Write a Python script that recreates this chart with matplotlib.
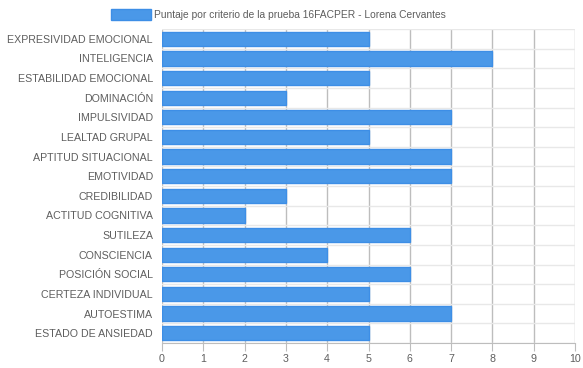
import numpy as np
import matplotlib.pyplot as plt

# puntajes 16FACPER por criterio

criterios = ['EXPRESIVIDAD EMOCIONAL', 'INTELIGENCIA', 'ESTABILIDAD EMOCIONAL', 'DOMINACIÓN',
             'IMPULSIVIDAD', 'LEALTAD GRUPAL', 'APTITUD SITUACIONAL', 'EMOTIVIDAD',
             'CREDIBILIDAD', 'ACTITUD COGNITIVA', 'SUTILEZA', 'CONSCIENCIA',
             'POSICIÓN SOCIAL', 'CERTEZA INDIVIDUAL', 'AUTOESTIMA', 'ESTADO DE ANSIEDAD']
puntajes = [5, 8, 5, 3, 7, 5, 7, 7, 3, 2, 6, 4, 6, 5, 7, 5]
serie = 'Puntaje por criterio de la prueba 16FACPER - Lorena Cervantes'

plt.rcParams['font.family'] = ['Liberation Sans', 'DejaVu Sans']
gris = '#5e5e5e'
fs = 7.7

fig = plt.figure(figsize=(5.83, 3.68), dpi=100)
ax = fig.add_axes([162/583, 1-343/368, 413/583, 314/368])

y = np.arange(len(criterios))
bars = ax.barh(y, puntajes, height=0.72, color='#4a98e8', edgecolor='#3d8ee6', linewidth=1, zorder=3, label=serie)

ax.set_xlim(0, 10)
ax.set_ylim(len(criterios) - 0.5, -0.5)
ax.set_xticks(np.arange(0, 11))
ax.set_yticks(y)
ax.set_yticklabels(criterios)

# lineas de la grilla
ax.set_yticks(np.arange(-0.5, len(criterios)), minor=True)
ax.grid(axis='y', which='minor', color='#e8e8e8', linewidth=1, zorder=0)
ax.grid(axis='x', which='major', color='#bdbdbd', linewidth=1, zorder=0)
ax.tick_params(axis='y', which='both', length=0, labelsize=fs, labelcolor=gris, pad=6.5)
ax.tick_params(axis='x', length=6, color='#bdbdbd', labelsize=fs, labelcolor=gris, pad=2)
for s in ['top', 'right']:
    ax.spines[s].set_visible(False)
ax.spines['left'].set_visible(False)
ax.spines['bottom'].set_color('#bdbdbd')

fig.legend(handles=[bars], labels=[serie], loc='upper center', bbox_to_anchor=(0.478, 1.0),
           frameon=False, fontsize=7.4, labelcolor=gris, handlelength=3.9, handleheight=1.2,
           handletextpad=0.3)

plt.savefig('out.png', dpi=100)
